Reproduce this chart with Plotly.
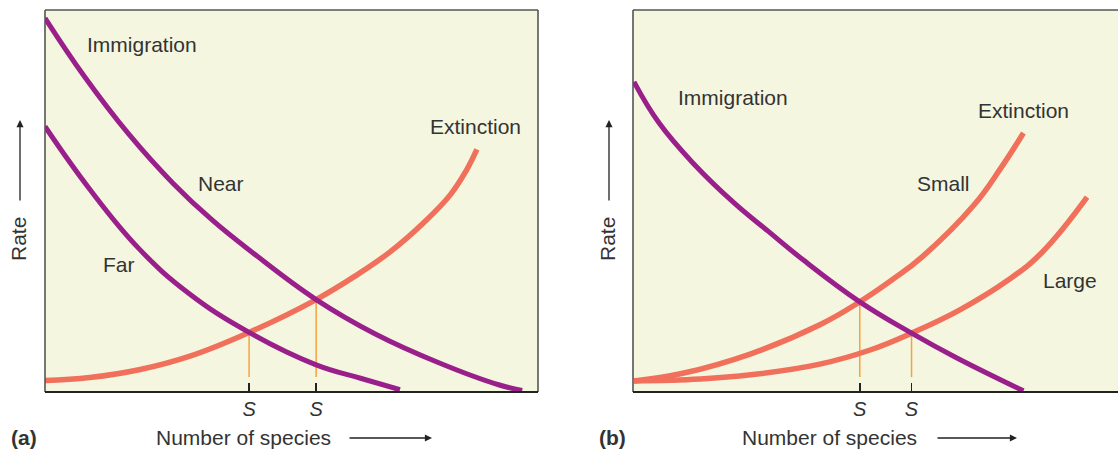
import plotly.graph_objects as go

# ---------------- data (arbitrary units: x = number of species, y = rate) -------------
# Panel (a): near / far islands
near_x = [0, 8, 17, 26, 34, 42, 55, 67, 80, 92, 96.8]
near_y = [97.9, 82.6, 67.5, 54.6, 44.9, 36.6, 24.2, 15.2, 7.6, 1.9, 0.4]
far_x = [0, 9, 19, 29, 41.4, 55, 64, 72]
far_y = [69.5, 53.2, 37.6, 26.0, 15.6, 7.1, 3.6, 0.6]
ext_a_x = [0, 9.1, 19.3, 29.4, 41.4, 55.0, 63.2, 70.0, 76.7, 82.2, 85.5, 87.6]
ext_a_y = [3.0, 3.8, 5.9, 9.4, 15.6, 24.2, 30.6, 36.7, 44.2, 51.6, 58.1, 63.5]
s_a = [41.4, 55.0]
s_a_rate = [15.6, 24.2]

# Panel (b): small / large islands
imm_b_x = [0.2, 5.3, 12.2, 20.5, 27.4, 34.5, 46.0, 56.5, 65.7, 79.2]
imm_b_y = [81.2, 70.4, 59.9, 49.5, 42.1, 34.6, 23.6, 15.4, 8.9, 0.3]
small_x = [0.2, 10.1, 23.9, 37.9, 46.0, 52.5, 58.6, 69.2, 74.6, 79.2]
small_y = [2.9, 4.9, 10.0, 17.6, 23.6, 29.3, 35.3, 49.0, 58.6, 67.8]
large_x = [0.2, 13.6, 23.9, 37.9, 48.1, 56.5, 66.3, 76.1, 83.0, 92.1]
large_y = [2.9, 3.4, 4.5, 7.3, 11.0, 15.4, 21.5, 29.3, 36.6, 51.0]
s_b = [46.0, 56.5]
s_b_rate = [23.6, 15.4]

s_floor = 3.9
tick_text = ["<i>S</i>", "<i>S</i>"]

# ---------------- styling ----------------
W, H = 1118, 450
PURPLE = "#991F8B"
CORAL = "#F1705B"
ORANGE = "#F6A23C"
BG = "#F5F6E0"
TXT = "#333333"
FONT = "Liberation Sans, Arial, sans-serif"

def px(x):
    return x / W

def py(y):
    return 1 - y / H

fig = go.Figure()

def curve(x, y, color, xa, ya, width=5):
    fig.add_trace(go.Scatter(x=x, y=y, mode="lines", xaxis=xa, yaxis=ya,
                             line=dict(color=color, width=width, shape="spline", smoothing=1.2),
                             hoverinfo="skip", showlegend=False))

# vertical equilibrium lines
for s, r in zip(s_a, s_a_rate):
    fig.add_trace(go.Scatter(x=[s, s], y=[s_floor, r], mode="lines", xaxis="x", yaxis="y",
                             line=dict(color=ORANGE, width=1.5), showlegend=False, hoverinfo="skip"))
for s, r in zip(s_b, s_b_rate):
    fig.add_trace(go.Scatter(x=[s, s], y=[s_floor, r], mode="lines", xaxis="x2", yaxis="y2",
                             line=dict(color=ORANGE, width=1.5), showlegend=False, hoverinfo="skip"))

curve(ext_a_x, ext_a_y, CORAL, "x", "y", 5.5)
curve(near_x, near_y, PURPLE, "x", "y")
curve(far_x, far_y, PURPLE, "x", "y")

curve(small_x, small_y, CORAL, "x2", "y2", 5.5)
curve(large_x, large_y, CORAL, "x2", "y2", 5.5)
curve(imm_b_x, imm_b_y, PURPLE, "x2", "y2")

ydom = [py(392), py(10)]
xa_left = [px(45), px(538)]
xa_right = [px(633), 1.0]
right_range = (W - 633) / 4.93

common_x = dict(showgrid=False, zeroline=False, showline=False, ticks="inside", ticklen=9,
                tickwidth=1.5, tickcolor="#222", tickfont=dict(family=FONT, size=20, color=TXT),
                ticklabelstandoff=3, fixedrange=True)
common_y = dict(showgrid=False, zeroline=False, showline=False, showticklabels=False,
                ticks="", range=[0, 100], fixedrange=True)

fig.update_layout(
    width=W, height=H,
    margin=dict(l=0, r=0, t=0, b=0),
    paper_bgcolor="white",
    plot_bgcolor=BG,
    font=dict(family=FONT, color=TXT),
    xaxis=dict(domain=xa_left, range=[0, 100], anchor="y", tickvals=s_a, ticktext=tick_text, **common_x),
    yaxis=dict(domain=ydom, anchor="x", **common_y),
    xaxis2=dict(domain=xa_right, range=[0, right_range], anchor="y2", tickvals=s_b, ticktext=tick_text, **common_x),
    yaxis2=dict(domain=ydom, anchor="x2", **common_y),
)

# frames
shapes = []
def seg(x0, y0, x1, y1, color, w):
    shapes.append(dict(type="line", xref="paper", yref="paper", x0=x0, y0=y0, x1=x1, y1=y1,
                       line=dict(color=color, width=w), layer="above"))

GRAY = "#555555"
# left panel
seg(px(45), ydom[0], px(45), ydom[1], GRAY, 1.6)
seg(px(538), ydom[0], px(538), ydom[1], GRAY, 1.6)
seg(px(45), ydom[1], px(538), ydom[1], GRAY, 1.6)
seg(px(45), ydom[0], px(538), ydom[0], "#222", 2)
# right panel
seg(px(633), ydom[0], px(633), ydom[1], GRAY, 1.6)
seg(px(633), ydom[1], 1.0, ydom[1], GRAY, 1.6)
seg(px(633), ydom[0], 1.0, ydom[0], "#222", 2)
fig.update_layout(shapes=shapes)

ann = []
def text(x, y, t, xref="x", yref="y", size=21, **kw):
    ann.append(dict(x=x, y=y, xref=xref, yref=yref, text=t, showarrow=False,
                    xanchor="center", yanchor="middle",
                    font=dict(family=FONT, size=size, color=TXT), **kw))

# panel (a) labels
text(19.7, 91.1, "Immigration")
text(35.7, 54.5, "Near")
text(15.0, 33.5, "Far")
text(87.4, 69.6, "Extinction")
# panel (b) labels
text(20.3, 77.0, "Immigration", "x2", "y2")
text(79.3, 73.8, "Extinction", "x2", "y2")
text(62.9, 54.5, "Small", "x2", "y2")
text(88.6, 29.3, "Large", "x2", "y2")

# axis titles and arrows
for (title_x, arr_x0, arr_x1, rate_x, tag, tag_x) in [
    (243, 348, 432, 18, "<b>(a)</b>", 24),
    (829, 936, 1017, 607, "<b>(b)</b>", 612),
]:
    text(px(title_x), py(437), "Number of species", "paper", "paper")
    text(px(tag_x), py(437), tag, "paper", "paper")
    text(px(rate_x), py(239), "Rate", "paper", "paper", textangle=-90)
    ann.append(dict(x=px(arr_x1), y=py(438), xref="paper", yref="paper",
                    ax=-(arr_x1 - arr_x0), ay=0, axref="pixel", ayref="pixel",
                    showarrow=True, arrowhead=2, arrowsize=1.1,
                    arrowwidth=1.3, arrowcolor="#222", text=""))
    ann.append(dict(x=px(rate_x + 2), y=py(120), xref="paper", yref="paper",
                    ax=0, ay=82, axref="pixel", ayref="pixel",
                    showarrow=True, arrowhead=2, arrowsize=1.1,
                    arrowwidth=1.3, arrowcolor="#222", text=""))

fig.update_layout(annotations=ann)

fig.write_html("out.html", config={"displayModeBar": False, "staticPlot": True},
               post_script="document.body.style.margin='0';document.body.style.overflow='hidden';")
